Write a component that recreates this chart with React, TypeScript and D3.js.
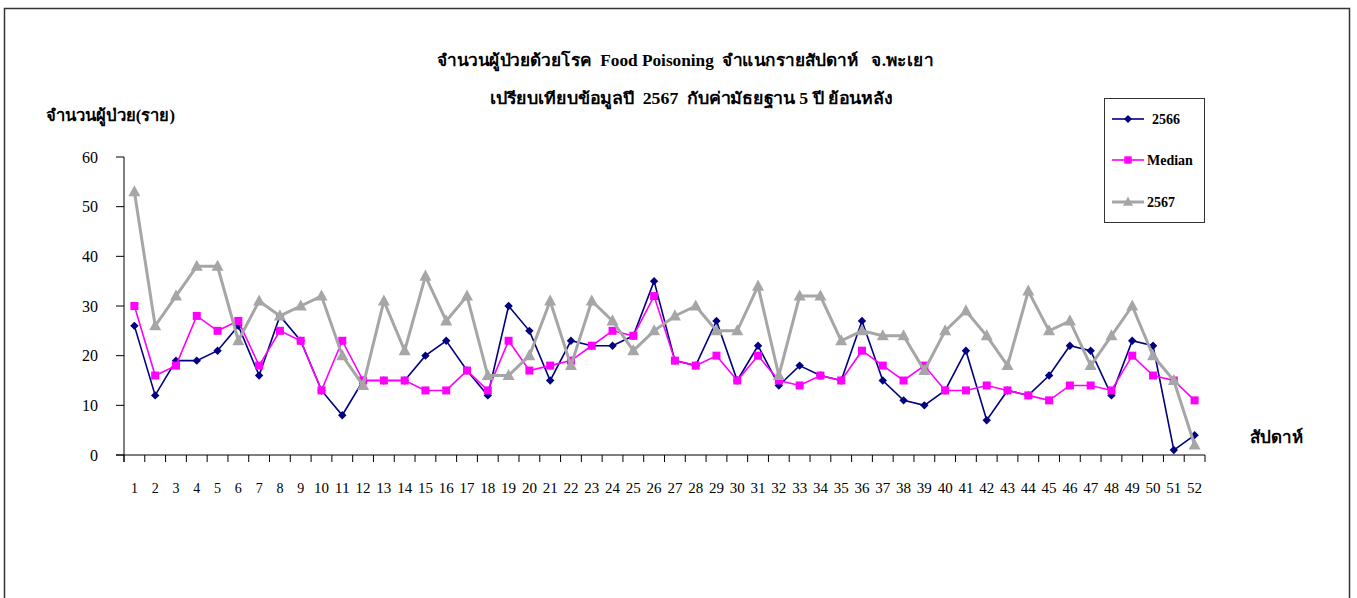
import React from "react";
import * as d3 from "d3";

const weeks: number[] = Array.from({ length: 52 }, (_, i) => i + 1);
const y2566: number[] = [26, 12, 19, 19, 21, 26, 16, 28, 23, 13, 8, 15, 15, 15, 20, 23, 17, 12, 30, 25, 15, 23, 22, 22, 24, 35, 19, 18, 27, 15, 22, 14, 18, 16, 15, 27, 15, 11, 10, 13, 21, 7, 13, 12, 16, 22, 21, 12, 23, 22, 1, 4];
const median: number[] = [30, 16, 18, 28, 25, 27, 18, 25, 23, 13, 23, 15, 15, 15, 13, 13, 17, 13, 23, 17, 18, 19, 22, 25, 24, 32, 19, 18, 20, 15, 20, 15, 14, 16, 15, 21, 18, 15, 18, 13, 13, 14, 13, 12, 11, 14, 14, 13, 20, 16, 15, 11];
const y2567: number[] = [53, 26, 32, 38, 38, 23, 31, 28, 30, 32, 20, 14, 31, 21, 36, 27, 32, 16, 16, 20, 31, 18, 31, 27, 21, 25, 28, 30, 25, 25, 34, 16, 32, 32, 23, 25, 24, 24, 17, 25, 29, 24, 18, 33, 25, 27, 18, 24, 30, 20, 15, 2];
const yTicks: number[] = [0, 10, 20, 30, 40, 50, 60];

const title1 = "จำนวนผู้ป่วยด้วยโรค  Food Poisoning  จำแนกรายสัปดาห์   จ.พะเยา";
const title2 = "เปรียบเทียบข้อมูลปี  2567  กับค่ามัธยฐาน 5 ปี ย้อนหลัง";
const yLabel = "จำนวนผู้ป่วย(ราย)";
const xLabel = "สัปดาห์";

const W = 1357;
const H = 598;
const serif = "'Times New Roman', 'Liberation Serif', 'DejaVu Serif', serif";

export default function App() {
  const x = d3.scaleBand<number>().domain(weeks).range([124, 1205]).padding(0);
  const y = d3.scaleLinear().domain([0, 60]).range([455, 157]);
  const cx = (w: number) => (x(w) as number) + x.bandwidth() / 2;
  const line = d3
    .line<number>()
    .x((_, i) => cx(weeks[i]))
    .y((d) => y(d));

  const diamond = (px: number, py: number, r: number) =>
    `M${px},${py - r}L${px + r},${py}L${px},${py + r}L${px - r},${py}Z`;
  const square = (px: number, py: number, r: number) =>
    `M${px - r},${py - r}h${2 * r}v${2 * r}h${-2 * r}Z`;
  const tri = (px: number, py: number, r: number) =>
    `M${px},${py - r * 1.1}L${px + r},${py + r * 0.75}L${px - r},${py + r * 0.75}Z`;

  const navy = "#000080";
  const mag = "#FF00FF";
  const gray = "#A6A6A6";

  const boundaries = [...weeks.map((w) => x(w) as number), 1205];

  return (
    <svg
      width={W}
      height={H}
      style={{ position: "absolute", left: 0, top: 0, background: "#fff" }}
      fontFamily={serif}
    >
      <rect x={0} y={0} width={W} height={H} fill="#fff" />
      {/* outer frame */}
      <path d={`M4.5,${H}V8.5H1349.5V${H}`} fill="none" stroke="#333" strokeWidth={1.5} />

      {/* titles */}
      <text x={685} y={66} textAnchor="middle" fontSize={16.5} fontWeight="bold" fill="#000"
        style={{ whiteSpace: "pre" }} textLength={496} lengthAdjust="spacingAndGlyphs">
        {title1}
      </text>
      <text x={691} y={104} textAnchor="middle" fontSize={16.5} fontWeight="bold" fill="#000"
        style={{ whiteSpace: "pre" }} textLength={403} lengthAdjust="spacingAndGlyphs">
        {title2}
      </text>
      <text x={46} y={121} fontSize={16.5} fontWeight="bold" fill="#000"
        textLength={129} lengthAdjust="spacingAndGlyphs">
        {yLabel}
      </text>
      <text x={1250} y={443} fontSize={17} fontWeight="bold" fill="#000">
        {xLabel}
      </text>

      {/* y axis */}
      <line x1={124} x2={124} y1={157} y2={462} stroke="#000" strokeWidth={1} />
      {yTicks.map((t) => (
        <g key={t}>
          <line x1={116} x2={124} y1={y(t)} y2={y(t)} stroke="#000" strokeWidth={1} />
          <text x={98} y={y(t)} dy="0.35em" textAnchor="end" fontSize={16} fill="#000">
            {t}
          </text>
        </g>
      ))}
      {/* x axis */}
      <line x1={116} x2={1205} y1={455} y2={455} stroke="#000" strokeWidth={1} />
      {boundaries.map((b, i) => (
        <line key={i} x1={b} x2={b} y1={455} y2={462} stroke="#000" strokeWidth={1} />
      ))}
      {weeks.map((w) => (
        <text key={w} x={cx(w)} y={493} textAnchor="middle" fontSize={14} fill="#000"
          textLength={w >= 10 ? 15 : undefined} lengthAdjust="spacingAndGlyphs">
          {w}
        </text>
      ))}

      {/* series 2566 */}
      <path d={line(y2566) || ""} fill="none" stroke={navy} strokeWidth={1.6} />
      {y2566.map((v, i) => (
        <path key={i} d={diamond(cx(weeks[i]), y(v), 4.2)} fill={navy} />
      ))}
      {/* median */}
      <path d={line(median) || ""} fill="none" stroke={mag} strokeWidth={1.6} />
      {median.map((v, i) => (
        <path key={i} d={square(cx(weeks[i]), y(v), 4)} fill={mag} />
      ))}
      {/* 2567 */}
      <path d={line(y2567) || ""} fill="none" stroke={gray} strokeWidth={3} strokeLinejoin="miter" />
      {y2567.map((v, i) => (
        <path key={i} d={tri(cx(weeks[i]), y(v), 6)} fill={gray} />
      ))}

      {/* legend */}
      <rect x={1104.5} y={98.5} width={100} height={124} fill="#fff" stroke="#333" strokeWidth={1} />
      <line x1={1112} x2={1144} y1={119} y2={119} stroke={navy} strokeWidth={1.6} />
      <path d={diamond(1128, 119, 4)} fill={navy} />
      <text x={1152} y={119} dy="0.35em" fontSize={14} fontWeight="bold">2566</text>
      <line x1={1112} x2={1144} y1={160} y2={160} stroke={mag} strokeWidth={1.6} />
      <path d={square(1128, 160, 3.7)} fill={mag} />
      <text x={1147} y={160} dy="0.35em" fontSize={14} fontWeight="bold">Median</text>
      <line x1={1112} x2={1144} y1={202} y2={202} stroke={gray} strokeWidth={3} />
      <path d={tri(1128, 202, 5)} fill={gray} />
      <text x={1147} y={202} dy="0.35em" fontSize={14} fontWeight="bold">2567</text>
    </svg>
  );
}
